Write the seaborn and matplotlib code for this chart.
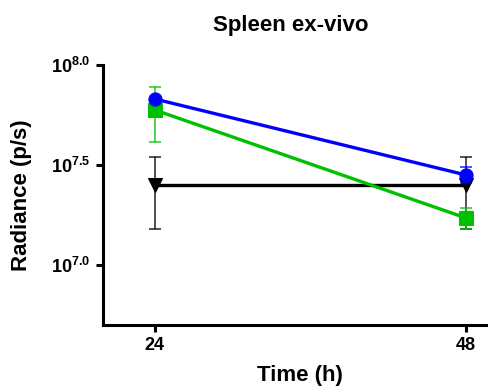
import numpy as np
import pandas as pd
import seaborn as sns
import matplotlib.pyplot as plt
from matplotlib.ticker import FixedLocator, FixedFormatter, NullLocator

# data (log10 radiance)
time_h = [24, 48]
blue_mean = [7.83, 7.45]
blue_lo = [7.83, 7.41]
blue_hi = [7.83, 7.49]
green_mean = [7.775, 7.235]
green_lo = [7.615, 7.18]
green_hi = [7.89, 7.285]
black_mean = [7.40, 7.40]
black_lo = [7.18, 7.18]
black_hi = [7.54, 7.54]

series = [
    ("black", black_mean, black_lo, black_hi, "v", "black"),
    ("green", green_mean, green_lo, green_hi, "s", "#00C000"),
    ("blue", blue_mean, blue_lo, blue_hi, "o", "#0000FF"),
]

sns.set_style("ticks")
plt.rcParams['font.family'] = ['Liberation Sans', 'DejaVu Sans']
plt.rcParams['mathtext.fontset'] = 'custom'
plt.rcParams['mathtext.bf'] = 'Liberation Sans:bold'
plt.rcParams['mathtext.rm'] = 'Liberation Sans:bold'

fig = plt.figure(figsize=(4.88, 3.92), dpi=100)
ax = fig.add_axes([103 / 488, 1 - 325 / 392, 389 / 488, 260 / 392])

for name, m, lo, hi, mk, col in series:
    y = 10 ** np.array(m)
    df = pd.DataFrame({"t": time_h, "y": y})
    yerr = [y - 10 ** np.array(lo), 10 ** np.array(hi) - y]
    ax.errorbar(time_h, y, yerr=yerr, fmt="none", ecolor=col, elinewidth=1.2,
                capsize=4, capthick=1.2, alpha=0.8)
    sns.lineplot(data=df, x="t", y="y", ax=ax, color=col, linewidth=2.4,
                 marker=mk, markersize=9.5, markeredgecolor=col, legend=False)

ax.set_yscale("log")
ax.set_ylim(10 ** 6.7, 10 ** 8.0)
ax.set_xlim(20, 50)
ax.yaxis.set_major_locator(FixedLocator([10 ** 7.0, 10 ** 7.5, 10 ** 8.0]))
ax.yaxis.set_major_formatter(FixedFormatter([r'$\mathbf{10^{7.0}}$', r'$\mathbf{10^{7.5}}$', r'$\mathbf{10^{8.0}}$']))
ax.yaxis.set_minor_locator(NullLocator())
ax.set_xticks(time_h)
ax.set_xticklabels([str(t) for t in time_h], fontweight="bold")

for s in ["top", "right"]:
    ax.spines[s].set_visible(False)
for s in ["left", "bottom"]:
    ax.spines[s].set_linewidth(2.2)
    ax.spines[s].set_color("black")
ax.tick_params(axis="both", width=2.2, length=5, labelsize=13, pad=4,
               color="black", labelcolor="black")

ax.set_xlabel("Time (h)", fontsize=16, fontweight="bold", color="black")
ax.xaxis.set_label_coords(0.505, -0.152)
ax.set_ylabel("Radiance (p/s)", fontsize=16, fontweight="bold", color="black")
ax.yaxis.set_label_coords(-0.183, 0.5)
fig.text(291 / 488, 1 - 31 / 392, "Spleen ex-vivo", fontsize=16, fontweight="bold",
         ha="center", va="baseline", color="black")

fig.savefig("out.png", dpi=100)
